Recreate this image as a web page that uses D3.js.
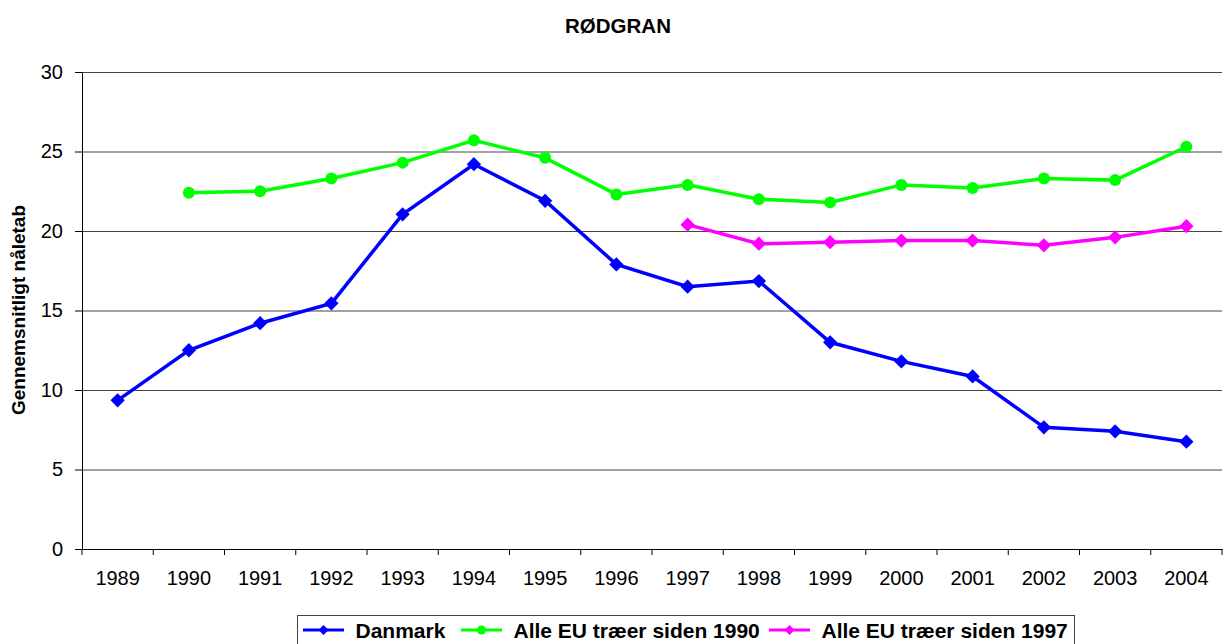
<!doctype html>
<html lang="da">
<head>
<meta charset="utf-8">
<title>RØDGRAN</title>
<style>
  body { margin: 0; background: white; font-family: Arial, "Liberation Sans", sans-serif; }
  svg { display: block; }
  .axis text { font-size: 20px; fill: black; font-family: Arial, "Liberation Sans", sans-serif; }
  .axis path, .axis line { stroke: black; stroke-width: 1px; }
  .grid line { stroke: #444; stroke-width: 1px; }
  .grid path { display: none; }
  .line { fill: none; stroke-width: 3.5px; }
  .title { font-size: 20.5px; font-weight: bold; }
  .ylabel { font-size: 19px; font-weight: bold; }
  .legend text { font-size: 21px; font-weight: bold; }
</style>
</head>
<body>
<script src="https://cdnjs.cloudflare.com/ajax/libs/d3/7.8.5/d3.min.js"></script>
<script>
var years = ["1989","1990","1991","1992","1993","1994","1995","1996","1997","1998","1999","2000","2001","2002","2003","2004"];
var danmark = [9.35, 12.5, 14.2, 15.45, 21.05, 24.2, 21.9, 17.9, 16.5, 16.85, 13.0, 11.8, 10.85, 7.65, 7.4, 6.75];
var eu1990 = [null, 22.4, 22.5, 23.3, 24.3, 25.7, 24.6, 22.3, 22.9, 22.0, 21.8, 22.9, 22.7, 23.3, 23.2, 25.3];
var eu1997 = [null, null, null, null, null, null, null, null, 20.4, 19.2, 19.3, 19.4, 19.4, 19.1, 19.6, 20.3];
var yTicks = [0, 5, 10, 15, 20, 25, 30];

var series = [
  { name: "Danmark", values: danmark, color: "#0000ff", marker: "diamond" },
  { name: "Alle EU træer siden 1990", values: eu1990, color: "#00ff00", marker: "circle" },
  { name: "Alle EU træer siden 1997", values: eu1997, color: "#ff00ff", marker: "diamond" }
];

var fullwidth = 1224, fullheight = 644;
var margin = { top: 72, right: 2, bottom: 95, left: 82 };
var width = fullwidth - margin.left - margin.right;
var height = fullheight - margin.top - margin.bottom;

var svg = d3.select("body").append("svg")
  .attr("width", fullwidth)
  .attr("height", fullheight);

var g = svg.append("g")
  .attr("transform", "translate(" + margin.left + "," + margin.top + ")");

var xScale = d3.scaleBand().domain(years).range([0, width]);
var yScale = d3.scaleLinear().domain([0, 30]).range([height, 0]);

// gridlines
g.append("g")
  .attr("class", "grid")
  .call(d3.axisLeft(yScale).tickValues(yTicks.slice(1)).tickSize(-width).tickFormat(""));

// y axis
g.append("g")
  .attr("class", "axis")
  .call(d3.axisLeft(yScale).tickValues(yTicks).tickSize(7).tickPadding(12).tickSizeOuter(0));

// x axis, tick marks sit between the categories
var xAx = g.append("g")
  .attr("class", "axis")
  .attr("transform", "translate(0," + height + ")")
  .call(d3.axisBottom(xScale).tickSize(0).tickPadding(22).tickSizeOuter(0));
xAx.selectAll(".tickmark")
  .data(years.concat(["end"]))
  .enter().append("line")
  .attr("x1", function(d, i) { return xScale.step() * i; })
  .attr("x2", function(d, i) { return xScale.step() * i; })
  .attr("y1", 0)
  .attr("y2", 6)
  .attr("stroke", "black");

var line = d3.line()
  .defined(function(d) { return d != null; })
  .x(function(d, i) { return xScale(years[i]) + xScale.bandwidth() / 2; })
  .y(function(d) { return yScale(d); });

var diamond = d3.symbol().type(d3.symbolDiamond2).size(130);
var smallDiamond = d3.symbol().type(d3.symbolDiamond2).size(64);

series.forEach(function(s) {
  var sg = g.append("g");
  sg.append("path")
    .attr("class", "line")
    .attr("stroke", s.color)
    .attr("d", line(s.values));
  var pts = s.values.map(function(v, i) { return { v: v, i: i }; })
    .filter(function(d) { return d.v != null; });
  if (s.marker === "circle") {
    sg.selectAll("circle").data(pts).enter().append("circle")
      .attr("cx", function(d) { return xScale(years[d.i]) + xScale.bandwidth() / 2; })
      .attr("cy", function(d) { return yScale(d.v); })
      .attr("r", 6)
      .attr("fill", s.color);
  } else {
    sg.selectAll("path.mk").data(pts).enter().append("path")
      .attr("class", "mk")
      .attr("d", diamond)
      .attr("transform", function(d) {
        return "translate(" + (xScale(years[d.i]) + xScale.bandwidth() / 2) + "," + yScale(d.v) + ")";
      })
      .attr("fill", s.color);
  }
});

// title
svg.append("text")
  .attr("class", "title")
  .attr("x", 618)
  .attr("y", 33)
  .attr("text-anchor", "middle")
  .text("RØDGRAN");

// y label
svg.append("text")
  .attr("class", "ylabel")
  .attr("transform", "translate(25,310) rotate(-90)")
  .attr("text-anchor", "middle")
  .text("Gennemsnitligt nåletab");

// legend
var legend = svg.append("g").attr("class", "legend");
legend.append("rect")
  .attr("x", 297.5).attr("y", 615.5)
  .attr("width", 777).attr("height", 32)
  .attr("fill", "white").attr("stroke", "#444");
var lx = [303, 461, 769];
series.forEach(function(s, i) {
  var item = legend.append("g").attr("transform", "translate(" + lx[i] + ",630)");
  item.append("line").attr("x1", 0).attr("x2", 41).attr("y1", 0).attr("y2", 0)
    .attr("stroke", s.color).attr("stroke-width", 3);
  if (s.marker === "circle") {
    item.append("circle").attr("cx", 20.5).attr("cy", 0).attr("r", 4.5).attr("fill", s.color);
  } else {
    item.append("path").attr("d", smallDiamond).attr("transform", "translate(20.5,0)").attr("fill", s.color);
  }
  item.append("text").attr("x", 52.5).attr("y", 8).text(s.name);
});
</script>
</body>
</html>
